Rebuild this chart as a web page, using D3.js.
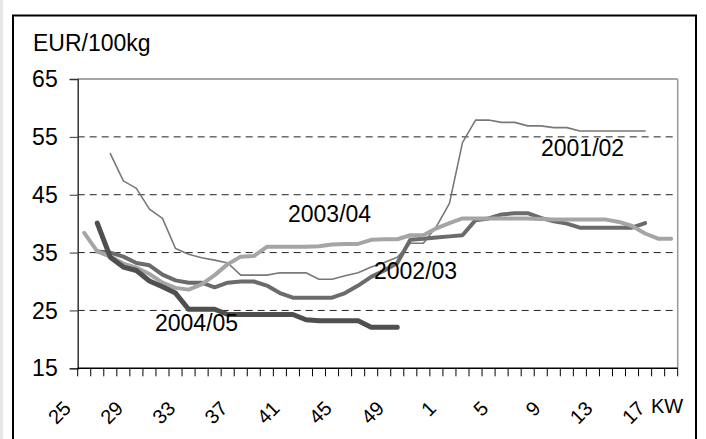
<!DOCTYPE html>
<html>
<head>
<meta charset="utf-8">
<script src="https://cdn.jsdelivr.net/npm/d3@7"></script>
<style>
  body { margin: 0; background: #fff; }
  text { font-family: "Liberation Sans", Arial, sans-serif; fill: #000; }
</style>
</head>
<body>
<div id="chart"></div>
<script>
// weeks (KW) 25..52 then 1..18
var weeks = [25,26,27,28,29,30,31,32,33,34,35,36,37,38,39,40,41,42,43,44,45,46,47,48,49,50,51,52,
             1,2,3,4,5,6,7,8,9,10,11,12,13,14,15,16,17,18];
var weekLabels = [25,29,33,37,41,45,49,1,5,9,13,17];
var yTicks = [15,25,35,45,55,65];

var s2001 = [null,null,52.1,47.4,46.1,42.5,40.9,35.7,34.7,34.1,33.7,33.2,31.1,31.1,31.1,31.5,31.5,31.5,30.4,30.4,
             31.0,31.5,32.5,33.3,34.2,36.6,36.6,39.5,43.5,54.0,57.9,57.9,57.5,57.5,56.9,56.9,56.6,56.6,56.0,56.0,
             56.0,56.0,56.0,56.0,null,null];
var s2002 = [null,35.2,35.0,34.3,33.2,32.8,31.2,30.2,29.8,29.8,29.0,29.8,30.0,30.0,29.3,28.0,27.2,27.2,27.2,27.2,
             28.0,29.3,30.8,31.9,33.2,37.2,37.4,37.6,37.8,38.0,40.6,40.9,41.6,41.8,41.8,41.0,40.4,40.0,39.3,39.3,
             39.3,39.3,39.3,40.1,null,null];
var s2003 = [38.4,35.2,34.3,33.1,32.4,31.3,29.8,28.9,28.6,29.5,31.1,33.0,34.3,34.4,36.0,36.0,36.0,36.0,36.1,36.4,
             36.5,36.5,37.2,37.3,37.3,38.0,38.0,39.2,40.1,40.9,40.9,40.9,40.9,40.9,40.9,40.8,40.7,40.7,40.7,40.7,
             40.7,40.3,39.6,38.3,37.4,37.4];
var s2004 = [null,40.1,34.2,32.5,31.9,30.1,29.1,28.0,25.2,25.2,25.2,24.3,24.3,24.3,24.3,24.3,24.3,23.4,23.2,23.2,
             23.2,23.2,22.1,22.1,22.1,null,null,null,null,null,null,null,null,null,null,null,null,null,null,null,
             null,null,null,null,null,null];

var series = [
  {name: '2001/02', values: s2001, color: '#787878', width: 1.6, lx: 541, ly: 156},
  {name: '2002/03', values: s2002, color: '#6b6b6b', width: 4,   lx: 374, ly: 279},
  {name: '2003/04', values: s2003, color: '#a5a5a5', width: 4,   lx: 288, ly: 222},
  {name: '2004/05', values: s2004, color: '#4f4f4f', width: 5,   lx: 155, ly: 331}
];

var W = 706, H = 439;
var plotL = 77.7, plotR = 677.7, plotT = 79, plotB = 368.3;

var svg = d3.select('#chart').append('svg')
  .attr('width', W).attr('height', H);

svg.append('rect').attr('width', W).attr('height', H).attr('fill', '#fff');
svg.append('rect').attr('x', 0).attr('y', 0).attr('width', 3).attr('height', H).attr('fill', '#e6e6e6');
// outer frame
svg.append('rect').attr('x', 13).attr('y', 15.5).attr('width', 683).attr('height', 440)
  .attr('fill', 'none').attr('stroke', '#000').attr('stroke-width', 2);

var x = d3.scaleBand().domain(weeks).range([plotL, plotR]).padding(0);
var y = d3.scaleLinear().domain([15, 65]).range([plotB, plotT]);

// dashed gridlines
svg.append('g').selectAll('line')
  .data(yTicks.filter(function(t){ return t > 15 && t < 65; }))
  .enter().append('line')
  .attr('x1', plotL).attr('x2', plotR)
  .attr('y1', function(d){ return y(d); }).attr('y2', function(d){ return y(d); })
  .attr('stroke', '#222').attr('stroke-width', 1).attr('stroke-dasharray', '7,5');

// plot area border top / right (gray)
svg.append('line').attr('x1', plotL).attr('x2', plotR).attr('y1', y(65)).attr('y2', y(65))
  .attr('stroke', '#888').attr('stroke-width', 1.5);
svg.append('line').attr('x1', plotR).attr('x2', plotR).attr('y1', y(65)).attr('y2', y(15))
  .attr('stroke', '#999').attr('stroke-width', 1.5);

// y axis
var yAxis = svg.append('g').attr('transform', 'translate(' + plotL + ',0)')
  .call(d3.axisLeft(y).tickValues(yTicks).tickSize(8).tickPadding(12).tickFormat(d3.format('d')));
yAxis.select('.domain').attr('stroke', '#333').attr('stroke-width', 1.5);
yAxis.selectAll('.tick line').attr('stroke', '#333');
yAxis.selectAll('.tick text').attr('font-size', 23).attr('fill', '#000')
  .attr('font-family', '"Liberation Sans", Arial, sans-serif').attr('dy', '0.33em');

// x axis line + ticks between categories
var xg = svg.append('g');
xg.append('line').attr('x1', plotL).attr('x2', plotR).attr('y1', plotB).attr('y2', plotB)
  .attr('stroke', '#000').attr('stroke-width', 1.5);
xg.selectAll('line.tk').data(d3.range(weeks.length + 1)).enter().append('line')
  .attr('class', 'tk')
  .attr('x1', function(i){ return x.range()[0] + i * x.step(); })
  .attr('x2', function(i){ return x.range()[0] + i * x.step(); })
  .attr('y1', plotB).attr('y2', plotB + 8)
  .attr('stroke', '#000').attr('stroke-width', 1);

xg.selectAll('text.lbl').data(weekLabels).enter().append('text')
  .attr('class', 'lbl')
  .attr('font-size', 20)
  .attr('text-anchor', 'end')
  .attr('transform', function(d){
    var cx = x(d) + x.bandwidth() / 2 - 12;
    return 'translate(' + cx + ',409.6) rotate(-45)';
  })
  .text(function(d){ return d; });

svg.append('text').attr('x', 651).attr('y', 413).attr('font-size', 20).text('KW');
svg.append('text').attr('x', 33).attr('y', 51).attr('font-size', 23).text('EUR/100kg');

// lines
var line = d3.line()
  .defined(function(d){ return d != null; })
  .x(function(d, i){ return x(weeks[i]) + x.bandwidth() / 2; })
  .y(function(d){ return y(d); });

svg.append('g').selectAll('path')
  .data(series).enter().append('path')
  .attr('d', function(s){ return line(s.values); })
  .attr('fill', 'none')
  .attr('stroke', function(s){ return s.color; })
  .attr('stroke-width', function(s){ return s.width; })
  .attr('stroke-linejoin', 'round')
  .attr('stroke-linecap', 'round');

svg.append('g').selectAll('text')
  .data(series).enter().append('text')
  .attr('x', function(s){ return s.lx; })
  .attr('y', function(s){ return s.ly; })
  .attr('font-size', 23)
  .text(function(s){ return s.name; });
</script>
</body>
</html>
